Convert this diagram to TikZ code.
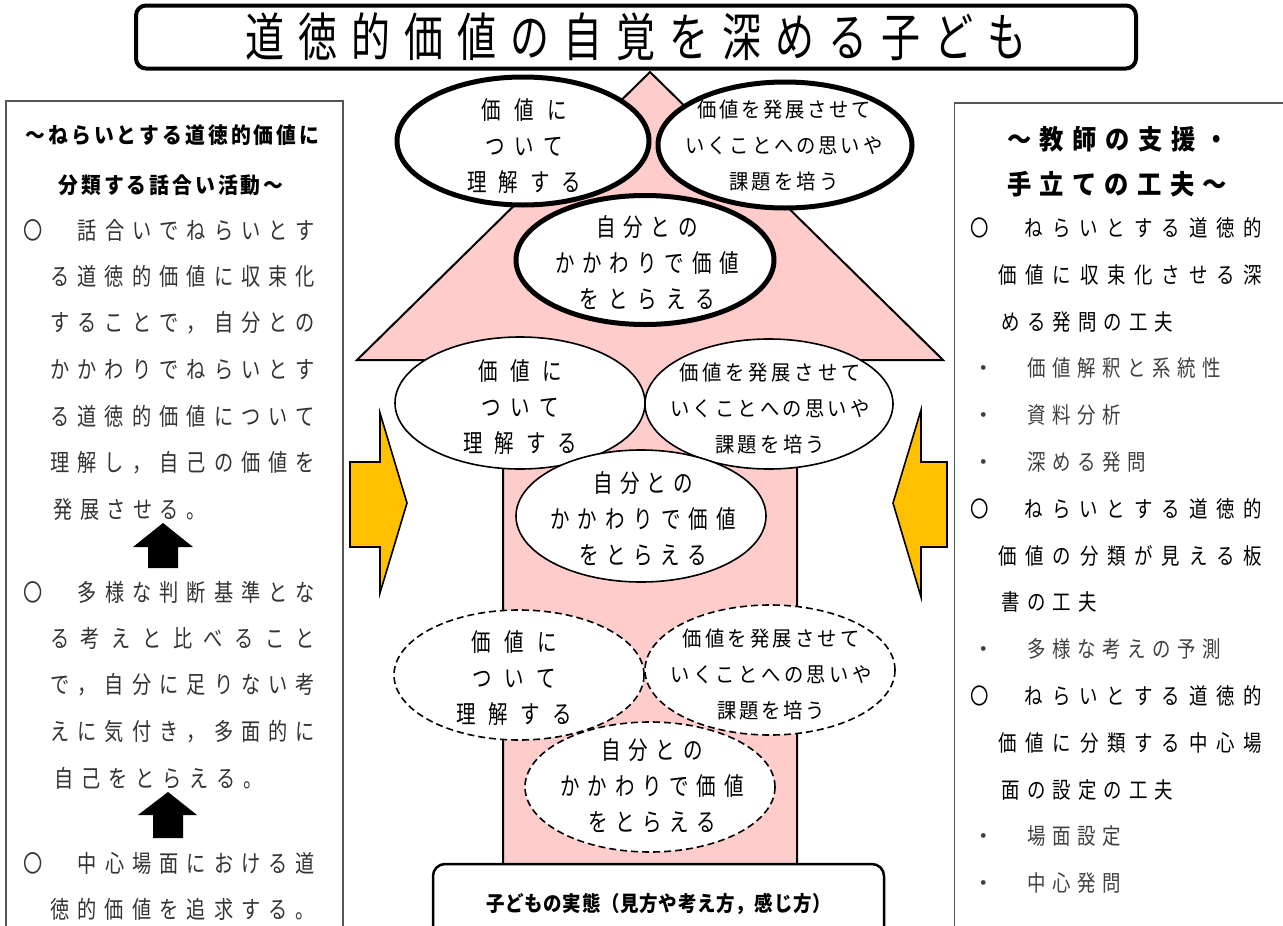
\documentclass[tikz,border=0pt]{standalone}
\usepackage{fontspec}
\usepackage{graphicx}
\setmainfont{Noto Sans CJK JP}
\usetikzlibrary{shapes.geometric}
\definecolor{pinkfill}{HTML}{FFCCCC}
\definecolor{goldfill}{HTML}{FFC000}
\definecolor{boxgray}{HTML}{555555}
\def\jsx{1}
\newcommand\jjust[2]{\makebox[#1][s]{\jjfirst#2\relax}}
\def\jjfirst#1{\scalebox{\jsx}[1]{#1}\jjloop}
\def\jjloop#1{\ifx\relax#1\else\hfill\scalebox{\jsx}[1]{#1}\expandafter\jjloop\fi}
\newcommand\jpitch[2]{\def\jpw{#1}\jploop#2\relax}
\def\jploop#1{\ifx\relax#1\else\makebox[\jpw]{\scalebox{\jsx}[1]{#1}}\expandafter\jploop\fi}
\tikzset{
  ttl/.style={draw, line width=4pt, rounded corners=10pt, inner sep=0pt},
  sidebox/.style={draw=boxgray, line width=1.5pt, anchor=north west, inner sep=0pt},
  basebox/.style={draw, fill=white, line width=2.5pt, rounded corners=12pt, inner sep=0pt},
  topell/.style={ellipse, draw, fill=white, line width=5pt, inner sep=0pt},
  midell/.style={ellipse, draw, fill=white, line width=1.6pt, inner sep=0pt},
  dashell/.style={ellipse, draw, fill=white, line width=1.6pt, dash pattern=on 7pt off 4pt, inner sep=0pt},
  etxt/.style={inner sep=0pt, align=center, font=\fontsize{25pt}{36pt}\selectfont\def\jsx{0.78}},
  etxts/.style={inner sep=0pt, align=center, font=\fontsize{21pt}{36pt}\selectfont\def\jsx{0.92}},
  lbody/.style={inner sep=0pt, anchor=west, text=black!80, font=\fontsize{24pt}{26pt}\selectfont\def\jsx{0.8}},
  rmain/.style={inner sep=0pt, anchor=west, font=\fontsize{22.5pt}{26pt}\selectfont\def\jsx{0.82}},
  rsub/.style={inner sep=0pt, anchor=west, text=black!75, font=\fontsize{22.5pt}{26pt}\selectfont\def\jsx{0.82}},
  lhead/.style={inner sep=0pt, font=\fontsize{22pt}{26pt}\selectfont\bfseries\def\jsx{0.9}},
  rhead/.style={inner sep=0pt, font=\fontsize{27pt}{30pt}\selectfont\bfseries\def\jsx{0.9}},
  yarrow/.style={draw, fill=goldfill, line width=1.6pt, line join=miter},
  bigarrow/.style={draw, fill=pinkfill, line width=2pt, line join=miter},
  blkarrow/.style={fill=black},
}
\begin{document}
\begin{tikzpicture}[x=1pt, y=-1pt]
\useasboundingbox (0,0) rectangle (1283,926);
\clip (0,0) rectangle (1283,926);
\fill[white] (0,0) rectangle (1283,926);

% title
\node[ttl, minimum width=1000pt, minimum height=63pt] (title) at (636,37)
  {\fontsize{52pt}{52pt}\selectfont\def\jsx{0.75}\jjust{781pt}{道徳的価値の自覚を深める子ども}};

% side boxes
\node[sidebox, minimum width=337pt, minimum height=850pt] (lbox) at (5,100) {};
\node[sidebox, minimum width=329pt, minimum height=850pt] (rbox) at (953.5,102) {};

% big pink arrow
\draw[bigarrow] (503,870) -- (503,360) -- (357,360) -- (650,72) -- (943,360) -- (797,360) -- (797,870) -- cycle;

% yellow arrows
\draw[yarrow] (350,462) -- (380,462) -- (380,413) -- (407,503) -- (380,593) -- (380,547) -- (350,547) -- cycle;
\draw[yarrow] (947,462) -- (921,462) -- (921,410) -- (893,503) -- (921,597) -- (921,547) -- (947,547) -- cycle;

% top ellipses (thick)
\node[topell, minimum width=252pt, minimum height=128pt] (e1) at (523,141) {};
\node[topell, minimum width=254pt, minimum height=126pt] (e2) at (785,145) {};
\node[topell, minimum width=258pt, minimum height=129pt] (e3) at (645,260) {};
\node[etxt] (t1) at (524,146) {\jjust{86pt}{価値に}\\\jjust{78pt}{ついて}\\\jjust{114pt}{理解する}};
\node[etxts] (t2) at (784,146) {\jjust{174pt}{価値を発展させて}\\\jjust{197pt}{いくことへの思いや}\\\jjust{109pt}{課題を培う}};
\node[etxt] (t3) at (647,263) {\jjust{101pt}{自分との}\\\jjust{184pt}{かかわりで価値}\\\jjust{135pt}{をとらえる}};

% middle ellipses
\node[midell, minimum width=250pt, minimum height=132pt] (e4) at (520,403) {};
\node[midell, minimum width=248pt, minimum height=130pt] (e5) at (769,404) {};
\node[midell, minimum width=250pt, minimum height=132pt] (e6) at (641,516) {};
\node[etxt] (t4) at (520,407) {\jjust{84pt}{価値に}\\\jjust{78pt}{ついて}\\\jjust{114pt}{理解する}};
\node[etxts] (t5) at (770,409) {\jjust{181pt}{価値を発展させて}\\\jjust{199pt}{いくことへの思いや}\\\jjust{110pt}{課題を培う}};
\node[etxt] (t6) at (643,519) {\jjust{99pt}{自分との}\\\jjust{186pt}{かかわりで価値}\\\jjust{128pt}{をとらえる}};

% dashed ellipses
\node[dashell, minimum width=250pt, minimum height=130pt] (e7) at (519,675) {};
\node[dashell, minimum width=250pt, minimum height=130pt] (e8) at (770,670) {};
\node[dashell, minimum width=250pt, minimum height=130pt] (e9) at (650,787) {};
\node[etxt] (t7) at (514,678) {\jjust{85pt}{価値に}\\\jjust{83pt}{ついて}\\\jjust{115pt}{理解する}};
\node[etxts] (t8) at (771,675) {\jjust{177pt}{価値を発展させて}\\\jjust{201pt}{いくことへの思いや}\\\jjust{107pt}{課題を培う}};
\node[etxt] (t9) at (652,786) {\jjust{101pt}{自分との}\\\jjust{183pt}{かかわりで価値}\\\jjust{128pt}{をとらえる}};

% base box
\node[basebox, minimum width=451pt, minimum height=80pt] (base) at (658.5,904)
  {\fontsize{21pt}{24pt}\selectfont\bfseries\def\jsx{0.88}\jjust{345pt}{子どもの実態（見方や考え方，感じ方）}};

% left box content
\node[lhead] (lh1) at (172.5,135) {\jjust{294pt}{～ねらいとする道徳的価値に}};
\node[lhead] (lh2) at (171,185) {\jjust{225pt}{分類する話合い活動～}};
\node[lbody] (l1) at (23,230) {\jjust{292pt}{〇　話合いでねらいとす}};
\node[lbody] (l2) at (50,276.5) {\jjust{265pt}{る道徳的価値に収束化}};
\node[lbody] (l3) at (50,323) {\jjust{265pt}{することで，自分との}};
\node[lbody] (l4) at (50,369.5) {\jjust{265pt}{かかわりでねらいとす}};
\node[lbody] (l5) at (50,416) {\jjust{265pt}{る道徳的価値について}};
\node[lbody] (l6) at (50,462.5) {\jjust{265pt}{理解し，自己の価値を}};
\node[lbody] (l7) at (50,509) {\jpitch{26.5pt}{発展させる。}};
\node[lbody] (l8) at (23,592) {\jjust{292pt}{〇　多様な判断基準とな}};
\node[lbody] (l9) at (50,638.5) {\jjust{265pt}{る考えと比べること}};
\node[lbody] (l10) at (50,685) {\jjust{265pt}{で，自分に足りない考}};
\node[lbody] (l11) at (50,731.5) {\jjust{265pt}{えに気付き，多面的に}};
\node[lbody] (l12) at (50,778) {\jpitch{27pt}{自己をとらえる。}};
\node[lbody] (l13) at (23,863) {\jjust{292pt}{〇　中心場面における道}};
\node[lbody] (l14) at (50,909.5) {\jjust{265pt}{徳的価値を追求する。}};
\fill[blkarrow] (148,568) -- (148,547) -- (133,547) -- (163,523) -- (193,547) -- (178,547) -- (178,568) -- cycle;
\fill[blkarrow] (153,838) -- (153,815) -- (138,815) -- (168,792) -- (197,815) -- (183,815) -- (183,838) -- cycle;

% right box content
\node[rhead] (rh1) at (1118,139) {\jjust{222pt}{～教師の支援・}};
\node[rhead] (rh2) at (1117,184) {\jjust{220pt}{手立ての工夫～}};
\node[rmain] (r1) at (970,228) {\jjust{292pt}{〇　ねらいとする道徳的}};
\node[rmain] (r2) at (998,274.8) {\jjust{264pt}{価値に収束化させる深}};
\node[rmain] (r3) at (998,321.6) {\jpitch{25.5pt}{める発問の工夫}};
\node[rsub] (r4) at (971,368.4) {\makebox[26pt]{・}\hspace{27pt}\jpitch{25pt}{価値解釈と系統性}};
\node[rsub] (r5) at (971,415.2) {\makebox[26pt]{・}\hspace{27pt}\jpitch{25pt}{資料分析}};
\node[rsub] (r6) at (971,462) {\makebox[26pt]{・}\hspace{27pt}\jpitch{25pt}{深める発問}};
\node[rmain] (r7) at (970,508.8) {\jjust{292pt}{〇　ねらいとする道徳的}};
\node[rmain] (r8) at (998,555.6) {\jjust{264pt}{価値の分類が見える板}};
\node[rmain] (r9) at (998,602.4) {\jpitch{25.5pt}{書の工夫}};
\node[rsub] (r10) at (971,649.2) {\makebox[26pt]{・}\hspace{27pt}\jpitch{25pt}{多様な考えの予測}};
\node[rmain] (r11) at (970,696) {\jjust{292pt}{〇　ねらいとする道徳的}};
\node[rmain] (r12) at (998,742.8) {\jjust{264pt}{価値に分類する中心場}};
\node[rmain] (r13) at (998,789.6) {\jpitch{25.5pt}{面の設定の工夫}};
\node[rsub] (r14) at (971,836.4) {\makebox[26pt]{・}\hspace{27pt}\jpitch{25pt}{場面設定}};
\node[rsub] (r15) at (971,883.2) {\makebox[26pt]{・}\hspace{27pt}\jpitch{25pt}{中心発問}};
\end{tikzpicture}
\end{document}
